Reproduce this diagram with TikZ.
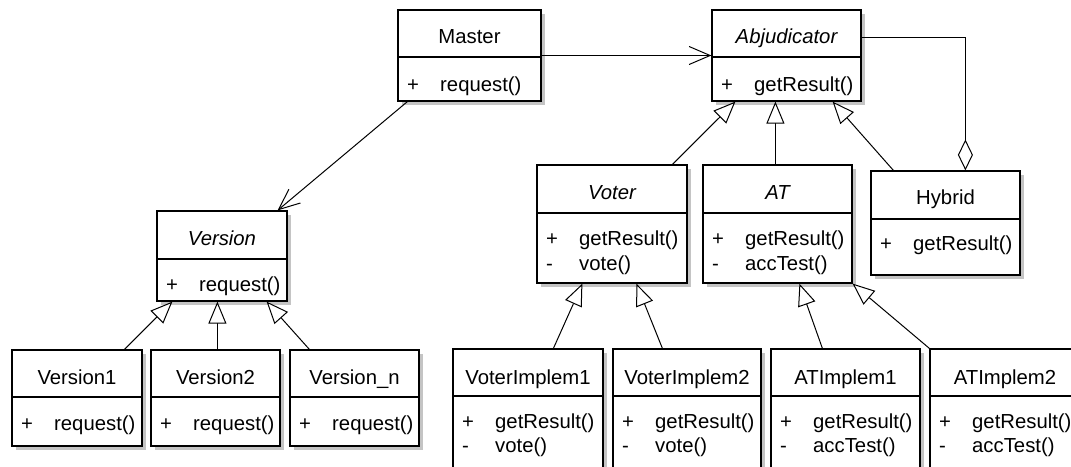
\documentclass[tikz,border=0pt]{standalone}
\usepackage{fontspec}
\setmainfont{Liberation Sans}
\usetikzlibrary{arrows.meta,fit}
\definecolor{shadowgray}{HTML}{C4C4C4}
\tikzset{
  classbox/.style={draw=black, line width=1.2pt, fill=white, inner sep=0pt, rectangle},
  boxline/.style={draw=black, line width=1.2pt},
  shadowfill/.style={fill=shadowgray},
  ttl/.style={anchor=base, inner sep=0pt, font=\fontsize{20.3}{24}\selectfont},
  atr/.style={anchor=base west, inner sep=0pt, font=\fontsize{20.3}{24}\selectfont},
  gen/.style={draw=black, line width=1pt, -{Triangle[open, length=22pt, width=18pt, fill=white]}},
  assoc/.style={draw=black, line width=1pt, -{Straight Barb[length=21pt, width=18pt]}},
  aggr/.style={draw=black, line width=1pt, -{Diamond[open, length=31pt, width=15pt, fill=white]}},
}
% #1 name, #2 x1, #3 y1, #4 x2, #5 ydiv, #6 y2
\newcommand\umlbox[6]{%
  \path[shadowfill] (#2+4,#3+4) rectangle (#4+4,#6+4);
  \node[classbox, fit={(#2,#3) (#4,#6)}] (#1) {};
  \draw[boxline] (#2,#5) -- (#4,#5);
}
% #1 x1, #2 baseline, #3 sign, #4 text
\newcommand\umlattr[4]{%
  \node[atr] at (#1+9,#2) {#3};
  \node[atr] at (#1+42,#2) {#4};
}
\begin{document}
\begin{tikzpicture}[x=1pt,y=-1pt]
\useasboundingbox (0,0) rectangle (1071,466);
\clip (0,0) rectangle (1071,466);
\fill[white] (0,0) rectangle (1071,466);

% Master
\umlbox{Master}{398}{10}{541}{57}{101}
\node[ttl] (tMaster) at (469.5,43) {Master};
\umlattr{398}{91}{+}{request()}

% Abjudicator
\umlbox{Abjudicator}{712}{10}{861}{57}{101}
\node[ttl] (tAbj) at (786.5,43) {\itshape Abjudicator};
\umlattr{712}{91}{+}{getResult()}

% Version
\umlbox{Version}{157}{211}{287}{259}{301}
\node[ttl] (tVersion) at (222,245) {\itshape Version};
\umlattr{157}{291}{+}{request()}

% Version1, Version2, Version_n
\umlbox{VersionA}{12}{350}{142}{397}{446}
\node[ttl] (tVA) at (77,384) {Version1};
\umlattr{12}{430}{+}{request()}

\umlbox{VersionB}{151}{350}{280}{397}{446}
\node[ttl] (tVB) at (215.5,384) {Version2};
\umlattr{151}{430}{+}{request()}

\umlbox{VersionN}{290}{350}{419}{397}{446}
\node[ttl] (tVN) at (354.5,384) {Version\_n};
\umlattr{290}{430}{+}{request()}

% Voter
\umlbox{Voter}{537}{165}{687}{213}{283}
\node[ttl] (tVoter) at (612,199) {\itshape Voter};
\umlattr{537}{245}{+}{getResult()}
\umlattr{537}{270}{-}{vote()}

% AT
\umlbox{AT}{703}{165}{852}{213}{283}
\node[ttl] (tAT) at (777.5,199) {\itshape AT};
\umlattr{703}{245}{+}{getResult()}
\umlattr{703}{270}{-}{accTest()}

% Hybrid
\umlbox{Hybrid}{871}{171}{1020}{219}{275}
\node[ttl] (tHybrid) at (945.5,204) {Hybrid};
\umlattr{871}{250}{+}{getResult()}

% Bottom row
\umlbox{VoterImplA}{453}{349}{603}{396}{492}
\node[ttl] (tVIA) at (528,384) {VoterImplem1};
\umlattr{453}{428}{+}{getResult()}
\umlattr{453}{452}{-}{vote()}

\umlbox{VoterImplB}{613}{349}{761}{396}{492}
\node[ttl] (tVIB) at (687,384) {VoterImplem2};
\umlattr{613}{428}{+}{getResult()}
\umlattr{613}{452}{-}{vote()}

\umlbox{ATImplA}{771}{349}{920}{396}{492}
\node[ttl] (tATA) at (845.5,384) {ATImplem1};
\umlattr{771}{428}{+}{getResult()}
\umlattr{771}{452}{-}{accTest()}

\umlbox{ATImplB}{930}{349}{1080}{396}{492}
\node[ttl] (tATB) at (1005,384) {ATImplem2};
\umlattr{930}{428}{+}{getResult()}
\umlattr{930}{452}{-}{accTest()}

% Associations
\draw[assoc] (Master.east) -- (Abjudicator.west);
\draw[assoc] ([xshift=10pt]Master.south west) -- ([xshift=-10pt]Version.north east);

% Aggregation
\draw[aggr] ([yshift=-28pt]Abjudicator.north east) -| ([xshift=95pt]Hybrid.north west);

% Generalizations
\draw[gen] ([xshift=136pt]Voter.north west) -- ([xshift=24pt]Abjudicator.south west);
\draw[gen] ([xshift=73pt]AT.north west) -- ([xshift=64pt]Abjudicator.south west);
\draw[gen] ([xshift=23pt]Hybrid.north west) -- ([xshift=-29pt]Abjudicator.south east);

\draw[gen] ([xshift=113pt]VersionA.north west) -- ([xshift=16pt]Version.south west);
\draw[gen] ([xshift=67pt]VersionB.north west) -- ([xshift=61pt]Version.south west);
\draw[gen] ([xshift=20pt]VersionN.north west) -- ([xshift=-21pt]Version.south east);

\draw[gen] ([xshift=101pt]VoterImplA.north west) -- ([xshift=46pt]Voter.south west);
\draw[gen] ([xshift=50pt]VoterImplB.north west) -- ([xshift=100pt]Voter.south west);
\draw[gen] ([xshift=52pt]ATImplA.north west) -- ([xshift=97pt]AT.south west);
\draw[gen] (ATImplB.north west) -- (AT.south east);
\end{tikzpicture}
\end{document}
